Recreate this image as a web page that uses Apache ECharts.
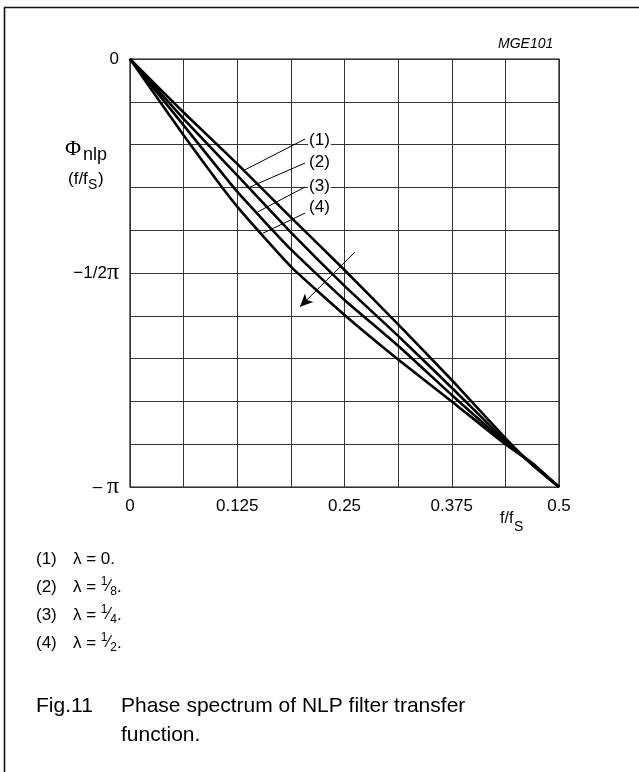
<!DOCTYPE html>
<html>
<head>
<meta charset="utf-8">
<script src="https://cdn.jsdelivr.net/npm/echarts@6/dist/echarts.min.js"></script>
<style>
html, body { margin: 0; padding: 0; background: #fff; }
#chart { width: 639px; height: 772px; }
</style>
</head>
<body>
<div id="chart"></div>
<script>
// f/fs values
var freq = [0, 0.0625, 0.125, 0.1875, 0.25, 0.3125, 0.375, 0.4375, 0.46875, 0.5];
// phase, in units of pi
var phase1 = [0, -0.125, -0.245, -0.370, -0.493, -0.620, -0.750, -0.886, -0.948, -1];
var phase2 = [0, -0.140, -0.272, -0.405, -0.530, -0.647, -0.768, -0.892, -0.947, -1];
var phase3 = [0, -0.155, -0.310, -0.445, -0.563, -0.670, -0.785, -0.896, -0.946, -1];
var phase4 = [0, -0.178, -0.345, -0.485, -0.598, -0.702, -0.800, -0.900, -0.944, -1];

var curveNames = ['(1)', '(2)', '(3)', '(4)'];
var lambdaTexts = ['λ = 0.', 'λ = {n|1}{s|⁄}{d|8}.', 'λ = {n|1}{s|⁄}{d|4}.', 'λ = {n|1}{s|⁄}{d|2}.'];

var xTickValues = [0, 0.125, 0.25, 0.375, 0.5];
var xTickTexts = ['0', '0.125', '0.25', '0.375', '0.5'];
var yTickValues = [0, -0.5, -1];
var yTickTexts = ['0', '−1/2{p|π}', '– {p|π}'];

// leader lines: label end -> point on curve
var leaderStart = [[0.204, -0.187], [0.204, -0.243], [0.204, -0.299], [0.204, -0.360]];
var leaderEnd = [[0.134, -0.259], [0.140, -0.299], [0.149, -0.357], [0.155, -0.407]];
var labelAt = [[0.2075, -0.189], [0.2075, -0.242], [0.2075, -0.297], [0.2075, -0.346]];
var arrowFrom = [0.2622, -0.451];
var arrowTo = [0.1981, -0.579];

var FONT = 'Liberation Sans, Arial, sans-serif';

function pairs(arr) {
    return freq.map(function (f, i) { return [f, arr[i]]; });
}
function findLabel(v, vals, texts) {
    for (var i = 0; i < vals.length; i++) {
        if (Math.abs(v - vals[i]) < 1e-6) return texts[i];
    }
    return '';
}

var myChart = echarts.init(document.getElementById('chart'));

var lineStyle = { color: '#000', width: 2.6 };
var series = [phase1, phase2, phase3, phase4].map(function (p, i) {
    return {
        name: curveNames[i],
        type: 'line',
        data: pairs(p),
        showSymbol: false,
        smooth: 0.15,
        lineStyle: lineStyle,
        z: 3
    };
});
// leaders + arrow
series.push({
    type: 'line',
    data: [],
    markLine: {
        silent: true,
        symbol: 'none',
        label: { show: false },
        lineStyle: { color: '#000', width: 1, type: 'solid' },
        data: leaderStart.map(function (s, i) {
            return [{ coord: s }, { coord: leaderEnd[i] }];
        })
    }
});
series.push({
    type: 'line',
    data: [],
    markLine: {
        silent: true,
        symbol: ['none', 'arrow'],
        symbolSize: [9, 13],
        label: { show: false },
        lineStyle: { color: '#000', width: 1, type: 'solid' },
        data: [[{ coord: arrowFrom }, { coord: arrowTo }]]
    }
});

var option = {
    animation: false,
    backgroundColor: '#fff',
    grid: {
        left: 130, top: 59, width: 429, height: 428,
        show: true, borderColor: '#111', borderWidth: 1.2
    },
    xAxis: {
        type: 'value',
        min: 0, max: 0.5, interval: 0.0625,
        axisLine: { show: false },
        axisTick: { show: false },
        splitLine: { show: true, lineStyle: { color: '#333', width: 1 } },
        axisLabel: {
            color: '#000', fontSize: 17, fontFamily: FONT, margin: 11,
            showMinLabel: true, showMaxLabel: true,
            formatter: function (v) { return findLabel(v, xTickValues, xTickTexts); }
        }
    },
    yAxis: {
        type: 'value',
        min: -1, max: 0, interval: 0.1,
        axisLine: { show: false },
        axisTick: { show: false },
        splitLine: { show: true, lineStyle: { color: '#333', width: 1 } },
        axisLabel: {
            color: '#000', fontSize: 17, fontFamily: FONT, margin: 11,
            showMinLabel: true, showMaxLabel: true,
            formatter: function (v) { return findLabel(v, yTickValues, yTickTexts); },
            rich: { p: { fontFamily: 'Liberation Serif, serif', fontSize: 24, color: '#000' } }
        }
    },
    series: series
};
myChart.setOption(option);

// texts around the plot
var g = [];
function txt(x, y, text, size, extra) {
    var st = { text: text, x: x, y: y, fill: '#000', fontSize: size, fontFamily: FONT, verticalAlign: 'middle' };
    for (var k in (extra || {})) st[k] = extra[k];
    g.push({ type: 'text', z: 100, style: st });
}
// frame
g.push({ type: 'polyline', z: 100, shape: { points: [[4.5, 772], [4.5, 7.5], [639, 7.5]] },
    style: { stroke: '#111', lineWidth: 1.6, fill: null } });

txt(498, 44, 'MGE101', 14, { fontStyle: 'italic' });
// y axis name
txt(65, 149, 'Φ', 22, { fontFamily: 'Liberation Serif, serif' });
txt(83, 155, 'nlp', 18);
txt(68, 179, '(f/f', 17);
txt(88, 185, 'S', 14);
txt(98, 179, ')', 17);
// x axis name
txt(500, 519, 'f/f', 16);
txt(514, 527, 'S', 14);

// curve labels
labelAt.forEach(function (c, i) {
    var p = myChart.convertToPixel({ gridIndex: 0 }, c);
    txt(p[0], p[1], curveNames[i], 17, { backgroundColor: '#fff', padding: [0, 1, 0, 1] });
});

// notes
var rich = {
    n: { fontSize: 12, fontFamily: FONT, verticalAlign: 'top', lineHeight: 22 },
    s: { fontSize: 16, fontFamily: FONT, lineHeight: 22 },
    d: { fontSize: 12, fontFamily: FONT, verticalAlign: 'bottom', lineHeight: 22 }
};
var noteY = [559, 587, 615, 643];
curveNames.forEach(function (nm, i) {
    txt(36, noteY[i], nm, 17);
    txt(73, noteY[i], lambdaTexts[i], 17, { rich: rich, lineHeight: 22 });
});
txt(36, 706, 'Fig.11', 21);
txt(121, 706, 'Phase spectrum of NLP filter transfer', 21);
txt(121, 735, 'function.', 21);

myChart.setOption({ graphic: g });
</script>
</body>
</html>
